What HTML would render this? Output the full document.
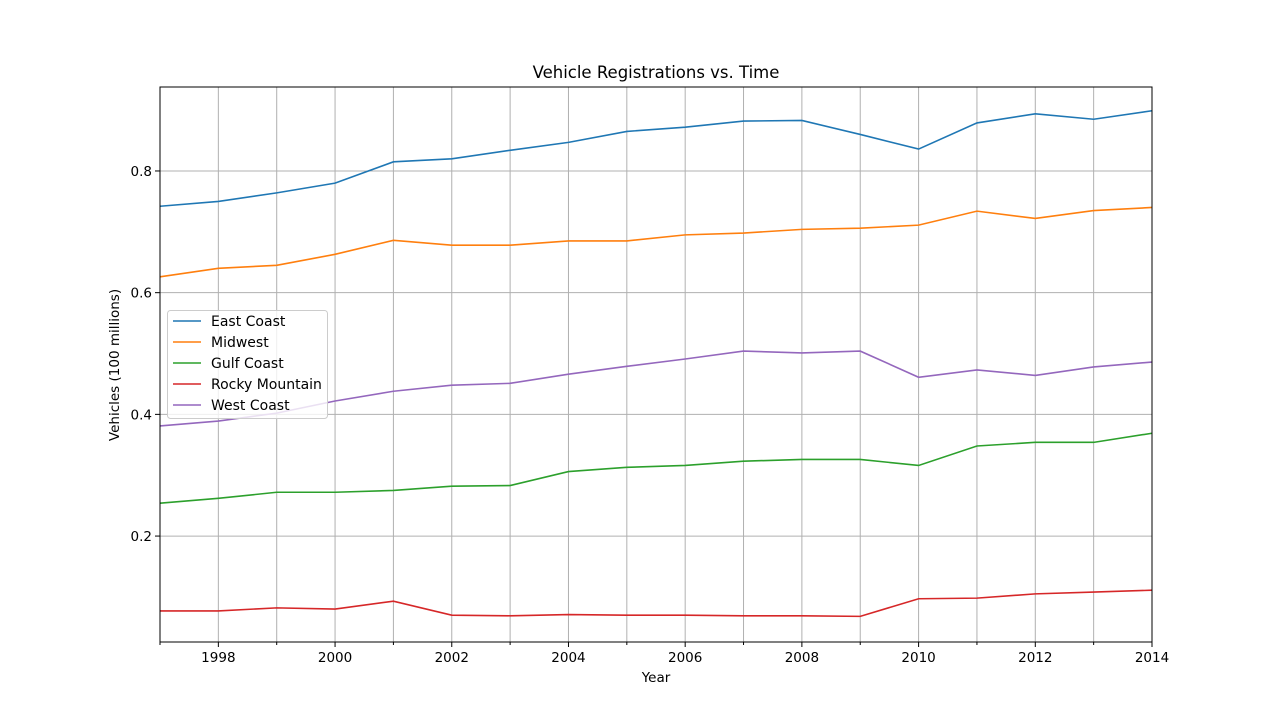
<!DOCTYPE html>
<html><head><meta charset="utf-8"><style>
body{margin:0;background:#fff;}
svg text{font-family:"DejaVu Sans","Liberation Sans",sans-serif;fill:#000;}
</style></head><body>
<svg id="chart" width="1280" height="721" xmlns="http://www.w3.org/2000/svg">
<rect width="1280" height="721" fill="#fff"/>
<text x="656" y="78" font-size="16.5" text-anchor="middle">Vehicle Registrations vs. Time</text>
<g id="grid"></g><g id="lines"></g><g id="axes"></g>
<text x="656" y="682" font-size="13.5" text-anchor="middle">Year</text>
<text transform="translate(119,365) rotate(-90)" font-size="13.5" text-anchor="middle">Vehicles (100 millions)</text>
<g id="legend"></g>
</svg>
<script>
const years=[1997,1998,1999,2000,2001,2002,2003,2004,2005,2006,2007,2008,2009,2010,2011,2012,2013,2014];
const seriesNames=["East Coast","Midwest","Gulf Coast","Rocky Mountain","West Coast"];
const eastCoast=[0.742,0.750,0.764,0.780,0.815,0.820,0.834,0.847,0.865,0.872,0.882,0.883,0.860,0.836,0.879,0.894,0.885,0.899];
const midwest=[0.626,0.640,0.645,0.663,0.686,0.678,0.678,0.685,0.685,0.695,0.698,0.704,0.706,0.711,0.734,0.722,0.735,0.740];
const gulfCoast=[0.254,0.262,0.272,0.272,0.275,0.282,0.283,0.306,0.313,0.316,0.323,0.326,0.326,0.316,0.348,0.354,0.354,0.369];
const rockyMountain=[0.077,0.077,0.082,0.080,0.093,0.070,0.069,0.071,0.070,0.070,0.069,0.069,0.068,0.097,0.098,0.105,0.108,0.111];
const westCoast=[0.381,0.389,0.402,0.422,0.438,0.448,0.451,0.466,0.479,0.491,0.504,0.501,0.504,0.461,0.473,0.464,0.478,0.486];
const yTicks=[0.2,0.4,0.6,0.8];
const xTickLabels=[1998,2000,2002,2004,2006,2008,2010,2012,2014];
const colors=["#1f77b4","#ff7f0e","#2ca02c","#d62728","#9467bd"];
const L=160,R=1152,T=87,B=642,x0=1997,x1=2014,yMin=0.0259,yMax=0.938;
const X=v=>L+(v-x0)/(x1-x0)*(R-L);
const Y=v=>B-(v-yMin)/(yMax-yMin)*(B-T);
const NS="http://www.w3.org/2000/svg";
function mk(tag,attrs,parent){const e=document.createElementNS(NS,tag);for(const k in attrs)e.setAttribute(k,attrs[k]);document.getElementById(parent).appendChild(e);return e;}
years.forEach(yr=>{
 const gx=mk('line',{x1:X(yr),x2:X(yr),y1:T,y2:B,stroke:'#b0b0b0','stroke-width':1},'grid');
 
 
 const tk=mk('line',{x1:X(yr),x2:X(yr),y1:B,y2:B+(xTickLabels.includes(yr)?5:3),stroke:'#000'},'axes');
 
 
});
xTickLabels.forEach(yr=>{
 const t=mk('text',{x:X(yr),y:B+20,'font-size':13.5,'text-anchor':'middle'},'axes');t.textContent=yr;
 
 
});
yTicks.forEach(v=>{
 const g=mk('line',{x1:L,x2:R,y1:Y(v),y2:Y(v),stroke:'#b0b0b0'},'grid');
 
 
 mk('line',{x1:L-5,x2:L,y1:Y(v),y2:Y(v),stroke:'#000'},'axes');
 const t=mk('text',{x:L-8,y:Y(v)+5,'font-size':13.5,'text-anchor':'end'},'axes');t.textContent=v.toFixed(1);
 
 
});
const fr=mk('rect',{x:L,y:T,width:R-L,height:B-T,fill:'none',stroke:'#000','stroke-width':1},'axes');


const allSeries=[eastCoast,midwest,gulfCoast,rockyMountain,westCoast];
allSeries.forEach((s,i)=>{
 const p=mk('polyline',{points:s.map((v,j)=>X(years[j])+','+Y(v)).join(' '),fill:'none',stroke:colors[i],'stroke-width':1.6},'lines');
 
 
});
const lb=mk('rect',{x:167.5,y:310.5,width:160,height:108,rx:3,fill:'#fff','fill-opacity':0.8,stroke:'#ccc'},'legend');


seriesNames.forEach((n,i)=>{
 const y=321+i*21;
 mk('line',{x1:173,x2:201,y1:y,y2:y,stroke:colors[i],'stroke-width':1.6},'legend');
 const t=mk('text',{x:211,y:y+5,'font-size':14},'legend');t.textContent=n;
 
 
});
</script>
</body></html>
